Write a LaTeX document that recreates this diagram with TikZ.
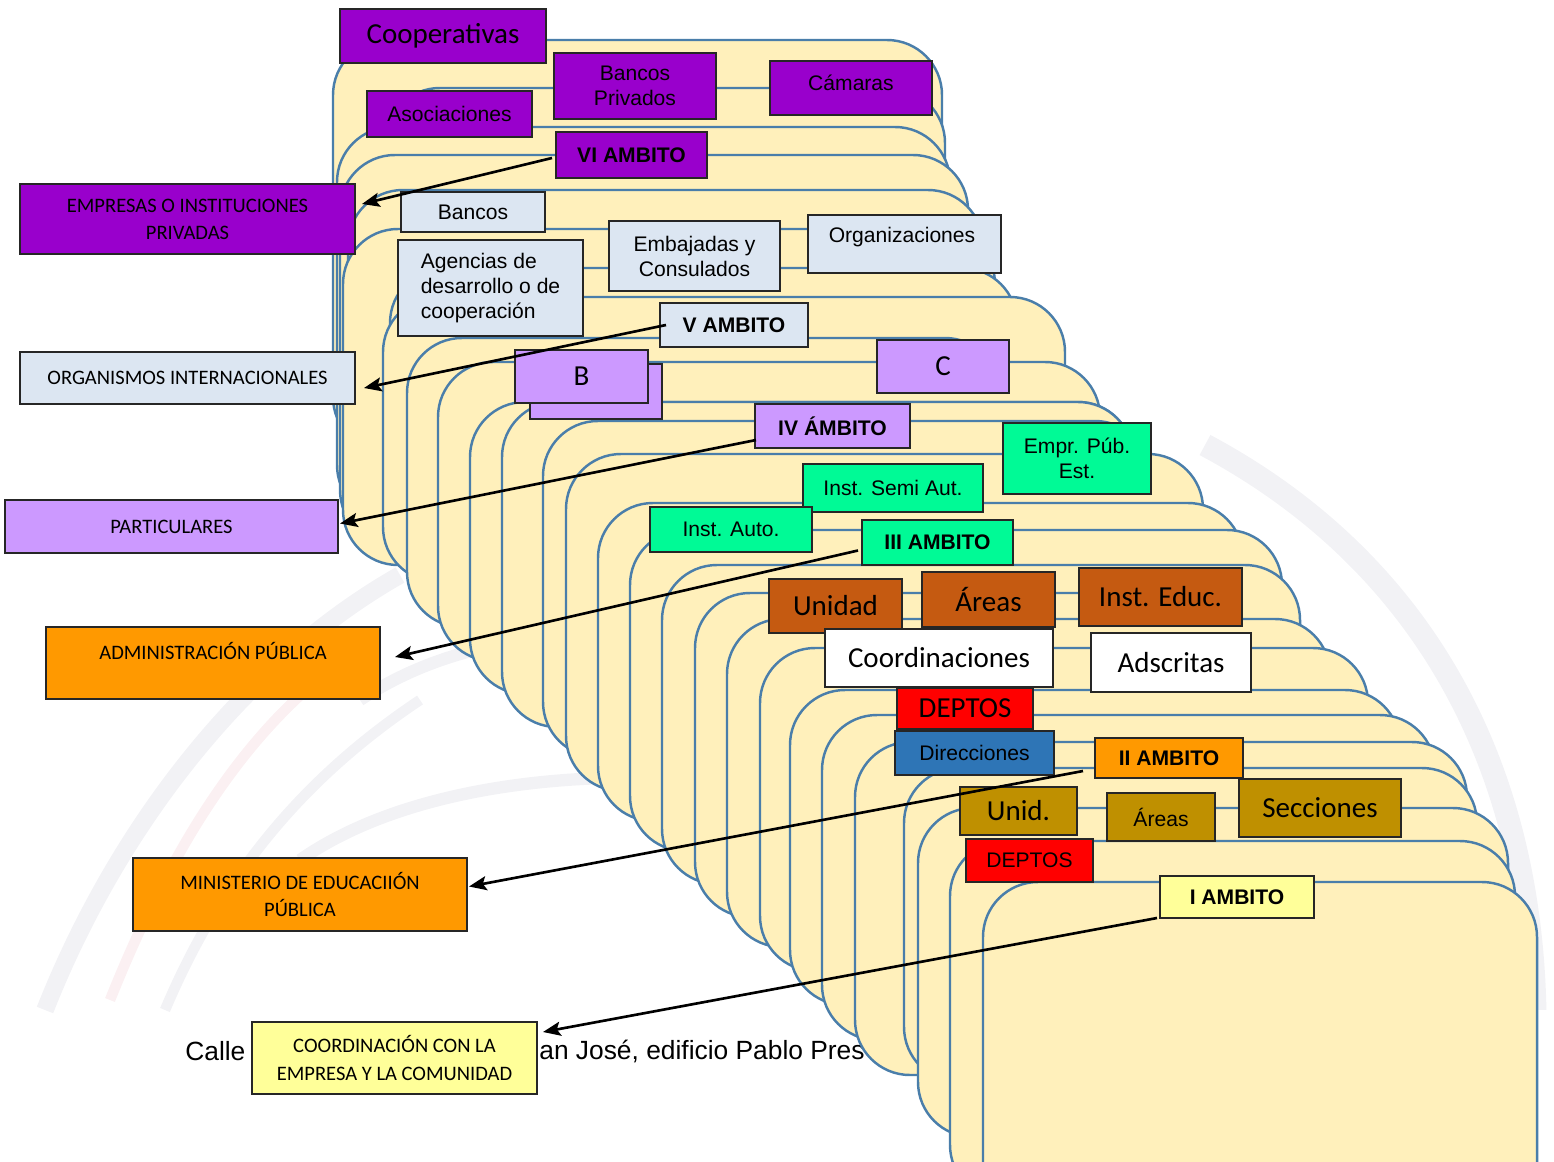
\documentclass[tikz,border=0pt]{standalone}
\usepackage{fontspec}
\setmainfont{Liberation Sans}
\newfontfamily\calib{Carlito}
\usetikzlibrary{arrows.meta,calc}

\definecolor{layerfill}{RGB}{255,240,187}
\definecolor{layerline}{RGB}{74,126,170}
\definecolor{purp}{RGB}{153,0,204}
\definecolor{lblue}{RGB}{220,230,242}
\definecolor{lav}{RGB}{204,153,255}
\definecolor{mint}{RGB}{0,250,150}
\definecolor{orng}{RGB}{255,153,0}
\definecolor{brwn}{RGB}{197,90,17}
\definecolor{redd}{RGB}{255,0,0}
\definecolor{dblue}{RGB}{46,117,182}
\definecolor{gold}{RGB}{191,144,0}
\definecolor{lyel}{RGB}{255,255,153}
\definecolor{wmgray}{RGB}{242,242,245}
\definecolor{wmred}{RGB}{251,240,242}

% font sizes
\newcommand\fAr{\fontsize{12}{14.2}\selectfont}
\newcommand\fArB{\fontsize{12}{14.2}\selectfont\bfseries}
\newcommand\fCalBig{\calib\fontsize{16.5}{19}\selectfont}
\newcommand\fCalSm{\calib\fontsize{11.7}{15.4}\selectfont}

% box by its corners: name, x1, y1, x2, y2, style, text
\newcommand\bx[7]{\node[box,#6,anchor=north west,
  minimum width={(#4-#2)*0.02cm}, minimum height={(#5-#3)*0.02cm}] (#1) at (#2,#3) {#7};}

\begin{document}
\begin{tikzpicture}[x=0.02cm,y=-0.02cm,
  layer/.style={draw=layerline, fill=layerfill, line width=1.4pt, rounded corners=1.1cm},
  box/.style={draw=black!85, line width=0.9pt, inner sep=0pt, outer sep=0pt, align=center, text=black},
  arr/.style={line width=1.5pt, -{Stealth[length=10pt,width=8pt,inset=2pt]}},
  wm/.style={line cap=butt}]
\useasboundingbox (0,0) rectangle (1554,1162);
\clip (0,0) rectangle (1554,1162);

% faint watermark arcs
\draw[wm, wmgray, line width=13pt] (1205,445) .. controls (1420,560) and (1530,760) .. (1535,1010);
\draw[wm, wmgray, line width=10pt] (45,1010) .. controls (120,820) and (250,660) .. (400,575);
\draw[wm, wmred, line width=6pt] (110,1000) .. controls (170,850) and (240,740) .. (330,670);
\draw[wm, wmgray, line width=6pt] (165,1010) .. controls (220,880) and (300,780) .. (420,700);
\draw[wm, wmgray, line width=7pt] (300,860) .. controls (400,790) and (560,770) .. (700,780);
\draw[wm, wmgray, line width=7pt] (360,700) .. controls (450,640) and (560,630) .. (640,640);

% street text partly covered by the layers
\node[inner sep=0pt, anchor=west, font=\fontsize{15}{17}\selectfont] (calle) at (185,1051) {Calle};
\node[inner sep=0pt, anchor=west, font=\fontsize{15}{17}\selectfont] (addr) at (539,1051) {an José, edificio Pablo Pres};

% stacked layers, back to front
\foreach \l/\t/\r/\b in {
  333/40/942/452, 385/88/945/450, 337/127/950/520, 340/155/968/545,
  348/190/983/552, 343/229/995/565, 390/268/1017/575, 383/297/1065/582,
  407/338/1000/627, 438/362/1100/661, 470/402/1133/694, 502/402/1133/727,
  543/421/1150/757, 566/454/1203/791, 598/503/1243/821, 630/530/1282/851,
  662/565/1300/884, 695/593/1240/917, 727/619/1330/947, 760/648/1368/971,
  790/690/1400/1005, 822/715/1435/1040, 855/742/1467/1075, 904/768/1477/1082,
  918/808/1508/1137, 950/841/1515/1200, 983/882/1537/1220}
  \draw[layer] (\l,\t) rectangle (\r,\b);

% VI ambito
\bx{coop}{340}{9}{546}{63}{fill=purp,font=\fCalBig}{Cooperativas}
\bx{bpriv}{554}{53}{716}{119}{fill=purp,font=\fAr}{Bancos\\Privados}
\bx{cam}{770}{61}{932}{115}{fill=purp}{}
\node[inner sep=0pt, font=\fAr] (camT) at (851,83) {Cámaras};
\bx{asoc}{367}{91}{532}{137}{fill=purp,font=\fAr}{Asociaciones}
\bx{vi}{556}{132}{707}{178}{fill=purp,font=\fArB}{VI AMBITO}
\bx{emp}{20}{184}{355}{254}{fill=purp,font=\fCalSm}{EMPRESAS O INSTITUCIONES\\PRIVADAS}

% V ambito
\bx{banc}{401}{192}{545}{232}{fill=lblue,font=\fAr}{Bancos}
\bx{emb}{609}{221}{780}{291}{fill=lblue,font=\fAr}{Embajadas y\\Consulados}
\bx{orgz}{808}{215}{1001}{273}{fill=lblue}{}
\node[inner sep=0pt, anchor=center, font=\fAr] (orgzT) at (902,237) {Organizaciones};
\bx{agen}{398}{240}{583}{336}{fill=lblue,font=\fAr,align=left}{Agencias de\\desarrollo o de\\cooperación}
\bx{v}{660}{303}{808}{347}{fill=lblue,font=\fArB}{V AMBITO}
\bx{orgi}{20}{352}{355}{404}{fill=lblue,font=\fCalSm}{ORGANISMOS INTERNACIONALES}

% IV ambito
\bx{bback}{530}{364}{662}{419}{fill=lav}{}
\bx{bfront}{515}{350}{648}{403}{fill=lav,font=\fCalBig}{B}
\bx{c}{877}{340}{1009}{393}{fill=lav,font=\fCalBig}{C}
\bx{iv}{755}{404}{910}{448}{fill=lav,font=\fArB}{IV ÁMBITO}
\bx{part}{5}{500}{338}{553}{fill=lav,font=\fCalSm}{PARTICULARES}

% III ambito
\bx{empr}{1003}{423}{1151}{494}{fill=mint,font=\fAr}{Empr. Púb.\\Est.}
\bx{semi}{803}{464}{983}{512}{fill=mint,font=\fAr}{Inst. Semi Aut.}
\bx{auto}{650}{507}{812}{552}{fill=mint,font=\fAr}{Inst. Auto.}
\bx{iii}{862}{520}{1013}{565}{fill=mint,font=\fArB}{III AMBITO}
\bx{adm}{46}{627}{380}{699}{fill=orng}{}
\node[inner sep=0pt, anchor=center, font=\fCalSm] (admT) at (213,651) {ADMINISTRACIÓN PÚBLICA};

% II ambito
\bx{unidad}{769}{579}{902}{633}{fill=brwn,font=\fCalBig}{Unidad}
\bx{areasA}{922}{572}{1055}{627}{fill=brwn,font=\fCalBig}{Áreas}
\bx{educ}{1079}{568}{1242}{626}{fill=brwn,font=\fCalBig}{Inst. Educ.}
\bx{coordA}{825}{629}{1053}{687}{fill=white,font=\fCalBig}{Coordinaciones}
\bx{adsc}{1091}{633}{1251}{692}{fill=white,font=\fCalBig}{Adscritas}
\bx{deptosA}{897}{688}{1033}{729}{fill=redd,font=\fCalBig}{DEPTOS}
\bx{dir}{895}{731}{1054}{775}{fill=dblue,font=\fAr}{Direcciones}
\bx{ii}{1095}{738}{1243}{778}{fill=orng,font=\fArB}{II AMBITO}
\bx{minis}{133}{858}{467}{931}{fill=orng,font=\fCalSm}{MINISTERIO DE EDUCACIIÓN\\PÚBLICA}

% I ambito
\bx{unid}{960}{787}{1077}{835}{fill=gold,font=\fCalBig}{Unid.}
\bx{areasB}{1107}{793}{1215}{841}{fill=gold,font=\fAr}{Áreas}
\bx{secc}{1239}{779}{1401}{837}{fill=gold,font=\fCalBig}{Secciones}
\bx{deptosB}{966}{839}{1093}{882}{fill=redd,font=\fAr}{DEPTOS}
\bx{ambI}{1160}{876}{1314}{918}{fill=lyel,font=\fArB}{I AMBITO}
\bx{coordC}{252}{1022}{537}{1094}{fill=lyel,font=\fCalSm}{COORDINACIÓN CON LA\\EMPRESA Y LA COMUNIDAD}

% arrows from each ambito to its sector
\coordinate (s6) at ($(vi.west)+(-4,3)$);
\coordinate (t6) at ($(emp.east)+(7,-15)$);
\coordinate (s5) at ($(v.west)+(6,0)$);
\coordinate (t5) at ($(orgi.east)+(9,10)$);
\coordinate (s4) at ($(iv.west)+(1,14)$);
\coordinate (t4) at ($(part.east)+(2,-3)$);
\coordinate (s3) at ($(iii.west)+(-4,8)$);
\coordinate (t3) at ($(adm.east)+(15,-6)$);
\coordinate (s2) at ($(ii.west)+(-12,13)$);
\coordinate (t2) at ($(minis.east)+(2,-8)$);
\coordinate (s1) at ($(ambI.west)+(-3,21)$);
\coordinate (t1) at ($(coordC.east)+(6,-26)$);
\foreach \k in {1,...,6} \draw[arr] (s\k) -- (t\k);
\end{tikzpicture}
\end{document}
